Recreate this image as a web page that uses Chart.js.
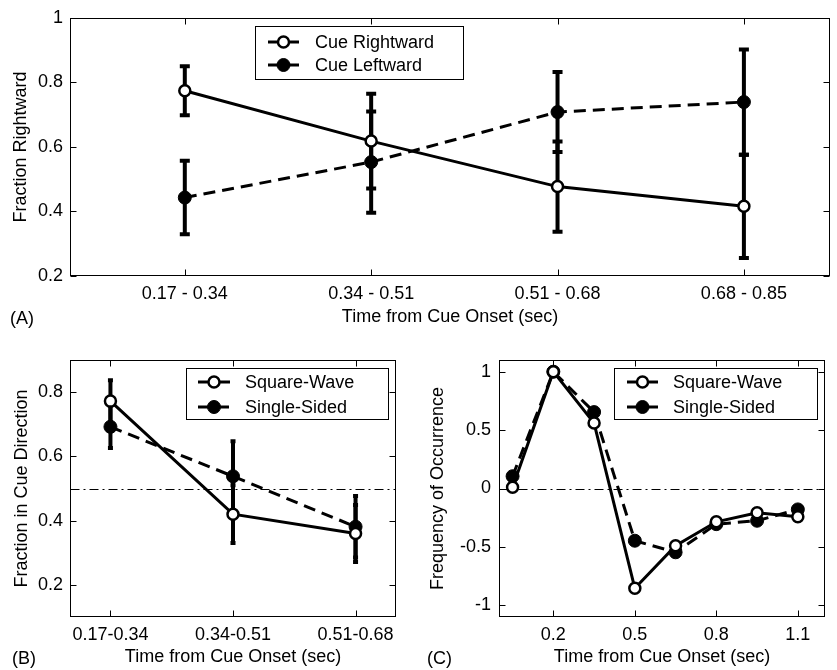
<!DOCTYPE html>
<html>
<head>
<meta charset="utf-8">
<script src="https://cdn.jsdelivr.net/npm/chart.js@4.4.0/dist/chart.umd.min.js"></script>
<style>
  body { margin: 0; background: #fff; width: 837px; height: 670px; overflow: hidden; position: relative;
         font-family: "Liberation Sans", Arial, Helvetica, sans-serif; }
  .panel { position: absolute; }
  .tag { position: absolute; font-size: 18px; line-height: 20px; color: #000; }
</style>
</head>
<body>
<div class="panel" style="left:0;top:0;width:838px;height:340px"><canvas id="chartA" width="838" height="340"></canvas></div>
<div class="panel" style="left:0;top:340px;width:420px;height:330px"><canvas id="chartB" width="420" height="330"></canvas></div>
<div class="panel" style="left:420px;top:340px;width:417px;height:330px"><canvas id="chartC" width="417" height="330"></canvas></div>
<div class="tag" style="left:10px;top:308px">(A)</div>
<div class="tag" style="left:12px;top:648px">(B)</div>
<div class="tag" style="left:427px;top:648px">(C)</div>

<script>
// panel A
const catsA = ["0.17 - 0.34", "0.34 - 0.51", "0.51 - 0.68", "0.68 - 0.85"];
const rightA = [0.774, 0.618, 0.477, 0.416];
const rightErrA = [0.076, 0.147, 0.14, 0.16];
const leftA = [0.443, 0.553, 0.708, 0.739];
const leftErrA = [0.114, 0.157, 0.124, 0.163];
const yTicksA = [0.2, 0.4, 0.6, 0.8, 1];

// panel B
const catsB = ["0.17-0.34", "0.34-0.51", "0.51-0.68"];
const squareB = [0.772, 0.420, 0.360];
const squareErrB = [0.065, 0.09, 0.089];
const singleB = [0.692, 0.538, 0.381];
const singleErrB = [0.066, 0.109, 0.096];
const yTicksB = [0.2, 0.4, 0.6, 0.8];

// panel C
const timesC = [0.05, 0.2, 0.35, 0.5, 0.65, 0.8, 0.95, 1.1];
const squareC = [0.01, 1.0, 0.56, -0.854, -0.49, -0.285, -0.208, -0.242];
const singleC = [0.105, 1.0, 0.654, -0.447, -0.546, -0.305, -0.276, -0.179];
const xTicksC = [0.2, 0.5, 0.8, 1.1];
const yTicksC = [-1, -0.5, 0, 0.5, 1];

const FONT = { family: "'Liberation Sans', Arial, Helvetica, sans-serif", size: 18 };
const xTitle = "Time from Cue Onset (sec)";

// box round the axes, inward ticks on all sides, optional dash-dot line
const frame = {
  id: "frame",
  beforeDatasetsDraw(chart, args, o) {
    const { ctx, chartArea: a, scales: { x, y } } = chart;
    const L = Math.round(a.left) + 0.5, R = Math.round(a.right) - 0.5;
    const T = Math.round(a.top) + 0.5, B = Math.round(a.bottom) - 0.5;
    ctx.save();
    ctx.strokeStyle = "#000";
    ctx.lineWidth = 1;
    if (o.refLine !== undefined) {
      const ry = Math.round(y.getPixelForValue(o.refLine)) + 0.5;
      ctx.setLineDash([9, 4, 2, 4]);
      ctx.beginPath(); ctx.moveTo(L, ry); ctx.lineTo(R, ry); ctx.stroke();
      ctx.setLineDash([]);
    }
    ctx.strokeRect(L, T, R - L, B - T);
    ctx.beginPath();
    x.ticks.forEach(t => {
      const px = Math.round(x.getPixelForValue(t.value)) + 0.5;
      ctx.moveTo(px, B); ctx.lineTo(px, B - 6);
      ctx.moveTo(px, T); ctx.lineTo(px, T + 6);
    });
    y.ticks.forEach(t => {
      const py = Math.round(y.getPixelForValue(t.value)) + 0.5;
      ctx.moveTo(L, py); ctx.lineTo(L + 6, py);
      ctx.moveTo(R, py); ctx.lineTo(R - 6, py);
    });
    ctx.stroke();
    ctx.restore();
  }
};

const errorBars = {
  id: "errorBars",
  beforeDatasetsDraw(chart, args, o) {
    const { ctx, scales: { x, y } } = chart;
    ctx.save();
    ctx.strokeStyle = "#000";
    ctx.lineWidth = o.width;
    chart.data.datasets.forEach(ds => {
      if (!ds.errors) return;
      ds.data.forEach((p, i) => {
        const e = ds.errors[i];
        const px = x.getPixelForValue(p.x);
        const y1 = y.getPixelForValue(p.y + e), y2 = y.getPixelForValue(p.y - e);
        ctx.beginPath();
        ctx.moveTo(px, y1); ctx.lineTo(px, y2);
        ctx.moveTo(px - o.cap, y1); ctx.lineTo(px + o.cap, y1);
        ctx.moveTo(px - o.cap, y2); ctx.lineTo(px + o.cap, y2);
        ctx.stroke();
      });
    });
    ctx.restore();
  }
};

const legendBox = {
  id: "legendBox",
  afterDraw(chart, args, o) {
    const ctx = chart.ctx;
    ctx.save();
    ctx.fillStyle = "#fff";
    ctx.fillRect(o.left, o.top, o.width, o.height);
    ctx.strokeStyle = "#000";
    ctx.lineWidth = 1;
    ctx.strokeRect(o.left + 0.5, o.top + 0.5, o.width, o.height);
    chart.data.datasets.forEach((ds, i) => {
      const yy = o.rows[i];
      const mid = (o.sample[0] + o.sample[1]) / 2;
      ctx.lineWidth = ds.borderWidth;
      ctx.setLineDash(ds.borderDash);
      ctx.beginPath(); ctx.moveTo(o.sample[0], yy); ctx.lineTo(o.sample[1], yy); ctx.stroke();
      ctx.setLineDash([]);
      ctx.beginPath(); ctx.arc(mid, yy, ds.pointRadius, 0, Math.PI * 2);
      ctx.fillStyle = ds.pointBackgroundColor; ctx.fill();
      ctx.lineWidth = ds.pointBorderWidth; ctx.stroke();
      ctx.fillStyle = "#000";
      ctx.font = FONT.size + "px " + FONT.family;
      ctx.textAlign = "left";
      ctx.textBaseline = "middle";
      ctx.fillText(ds.label, o.textX, yy + 1);
    });
    ctx.restore();
  }
};

function series(label, xs, ys, errs, open, r) {
  return {
    label: label,
    data: xs.map((x, i) => ({ x: x, y: ys[i] })),
    errors: errs,
    borderColor: "#000",
    borderWidth: 3,
    borderDash: open ? [] : [12, 7],
    pointRadius: r,
    pointHoverRadius: r,
    pointBorderWidth: open ? 2.5 : 1,
    pointBorderColor: "#000",
    pointBackgroundColor: open ? "#fff" : "#000",
    tension: 0,
    fill: false
  };
}

function axis(o) {
  return {
    type: "linear",
    min: o.min,
    max: o.max,
    grid: { display: false, drawTicks: false },
    border: { display: false },
    afterBuildTicks: s => { s.ticks = o.ticks.map(v => ({ value: v })); },
    afterFit: s => {
      if (o.width) s.width = o.width;
      if (o.height) s.height = o.height;
    },
    ticks: { color: "#000", font: FONT, padding: o.pad, maxRotation: 0, autoSkip: false, callback: o.fmt },
    title: { display: true, text: o.title, color: "#000", font: FONT, padding: o.titlePad }
  };
}

function makeChart(id, datasets, p) {
  return new Chart(document.getElementById(id), {
    type: "line",
    data: { datasets: datasets },
    plugins: [frame, errorBars, legendBox],
    options: {
      responsive: false,
      animation: false,
      events: [],
      layout: { padding: { left: 0, right: p.padRight, top: p.padTop, bottom: 0 } },
      plugins: {
        legend: { display: false },
        tooltip: { enabled: false },
        frame: { refLine: p.refLine },
        errorBars: p.err,
        legendBox: p.legend
      },
      scales: { x: axis(p.x), y: axis(p.y) }
    }
  });
}

const idxA = catsA.map((_, i) => i + 1);
makeChart("chartA", [
  series("Cue Rightward", idxA, rightA, rightErrA, true, 5.5),
  series("Cue Leftward", idxA, leftA, leftErrA, false, 6.5)
], {
  padRight: 0, padTop: 16,
  err: { width: 4, cap: 5 },
  legend: { left: 255, top: 26, width: 208, height: 53, rows: [42, 65], sample: [268, 299], textX: 315 },
  x: { min: 0.384, max: 4.462, ticks: idxA, height: 64, pad: 7, fmt: v => catsA[Math.round(v) - 1],
       title: xTitle, titlePad: { top: 0, bottom: 12 } },
  y: { min: 0.2, max: 1, ticks: yTicksA, width: 70, pad: 7, fmt: v => String(v),
       title: "Fraction Rightward", titlePad: { top: 10, bottom: 0 } }
});

const idxB = catsB.map((_, i) => i + 1);
makeChart("chartB", [
  series("Square-Wave", idxB, squareB, squareErrB, true, 5.5),
  series("Single-Sided", idxB, singleB, singleErrB, false, 6.5)
], {
  padRight: 24, padTop: 20, refLine: 0.5,
  err: { width: 4, cap: 2.5 },
  legend: { left: 186, top: 28, width: 202, height: 51, rows: [42, 67], sample: [198, 230], textX: 245 },
  x: { min: 0.67, max: 3.33, ticks: idxB, height: 53, pad: 7, fmt: v => catsB[Math.round(v) - 1],
       title: xTitle, titlePad: { top: 0, bottom: 2 } },
  y: { min: 0.1, max: 0.9, ticks: yTicksB, width: 70, pad: 7, fmt: v => String(v),
       title: "Fraction in Cue Direction", titlePad: { top: 11, bottom: 0 } }
});

makeChart("chartC", [
  series("Square-Wave", timesC, squareC, null, true, 5.5),
  series("Single-Sided", timesC, singleC, null, false, 6.5)
], {
  padRight: 12, padTop: 20, refLine: 0,
  err: { width: 4, cap: 2.5 },
  legend: { left: 194, top: 28, width: 203, height: 51, rows: [42, 67], sample: [207, 238], textX: 253 },
  x: { min: 0, max: 1.2, ticks: xTicksC, height: 53, pad: 7, fmt: v => String(v),
       title: xTitle, titlePad: { top: 0, bottom: 2 } },
  y: { min: -1.1, max: 1.1, ticks: yTicksC, width: 79, pad: 8, fmt: v => String(v),
       title: "Frequency of Occurrence", titlePad: { top: 7, bottom: 0 } }
});
</script>
</body>
</html>
